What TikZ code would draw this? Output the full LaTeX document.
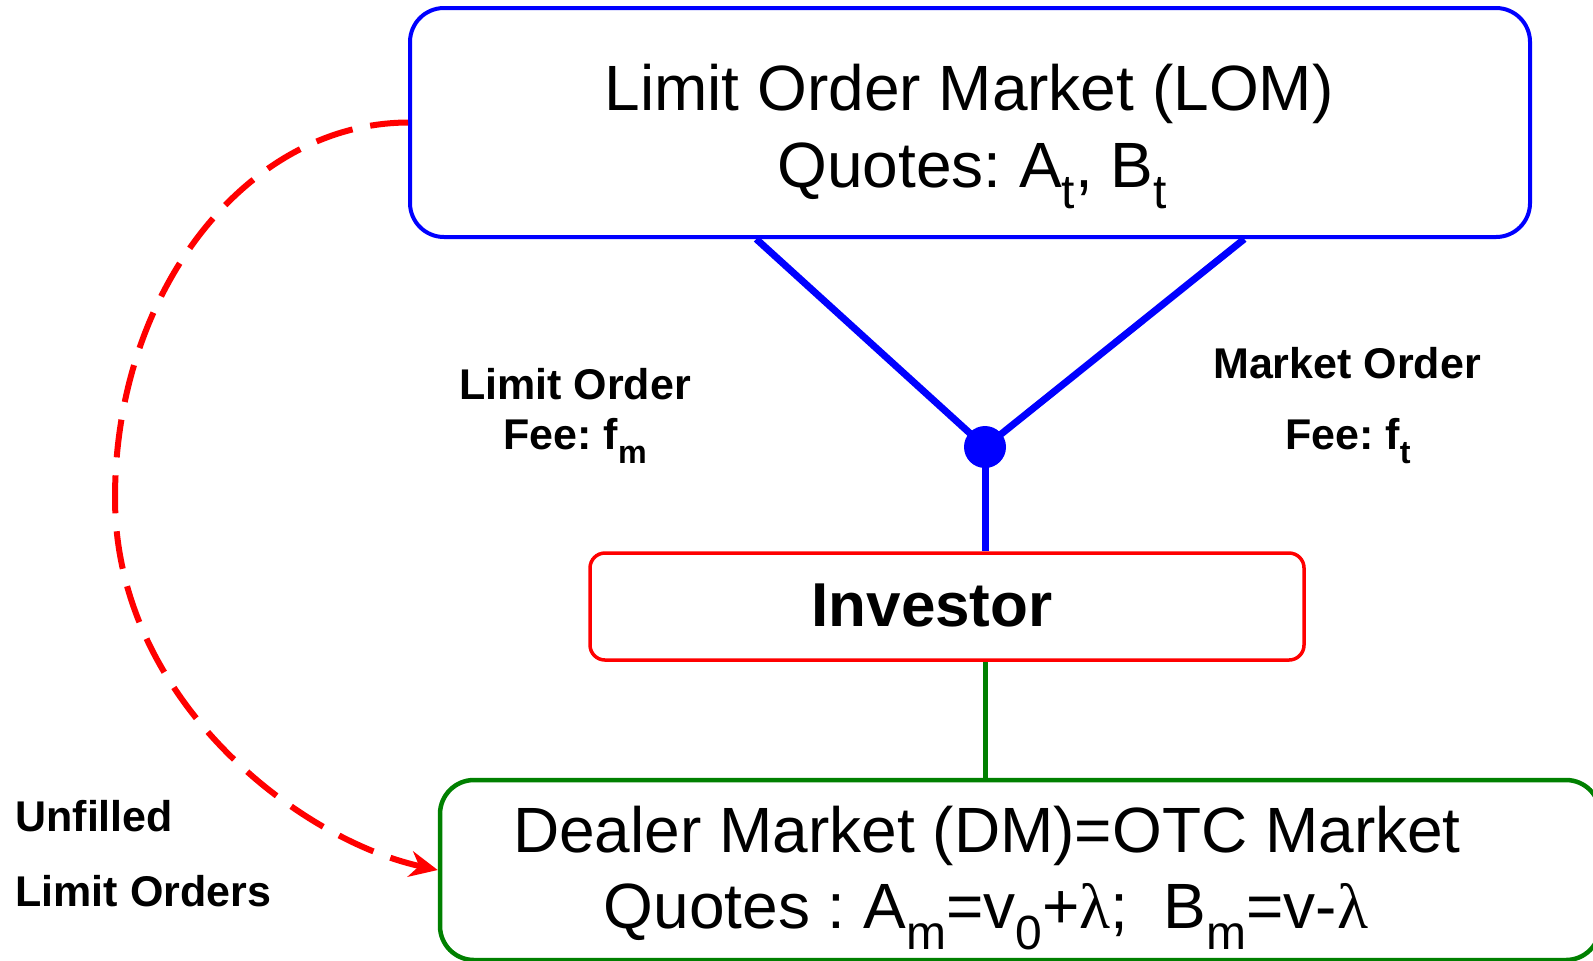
\documentclass[tikz,border=0pt]{standalone}
\usepackage{fontspec}
\setmainfont{Liberation Sans}
\newfontfamily\grk{Liberation Serif}
\usetikzlibrary{arrows.meta,calc}
\newcommand{\lsub}[1]{\raisebox{-0.33em}{\scalebox{0.75}{#1}}}
\definecolor{dkgreen}{RGB}{0,128,0}
\frenchspacing
\begin{document}
\begin{tikzpicture}[x=0.5pt,y=-0.5pt,
  big/.style={font=\fontsize{32pt}{39pt}\selectfont, inner sep=0pt, anchor=base},
  lbl/.style={font=\fontsize{21.5pt}{26pt}\selectfont\bfseries, inner sep=0pt, anchor=base},
  lbll/.style={lbl, anchor=base west},
  boxb/.style={draw=blue, line width=2pt, rounded corners=17pt, inner sep=0pt},
  boxr/.style={draw=red, line width=1.75pt, rounded corners=7.5pt, inner sep=0pt},
  boxg/.style={draw=dkgreen, line width=2.25pt, rounded corners=17pt, inner sep=0pt},
  leg/.style={draw=blue, line width=3.5pt},
  dline/.style={draw=red, line width=3pt, dash pattern=on 19pt off 9pt, -{Stealth[length=14pt,width=13pt]}}
]
\useasboundingbox (0,0) rectangle (1593,960);
\clip (0,0) rectangle (1593,960);
% boxes
\node[boxb, minimum width=560pt, minimum height=114.5pt] (lom) at (970,122.5) {};
\node[boxr, minimum width=357pt, minimum height=53.5pt] (inv) at (947,606.5) {};
\node[boxg, minimum width=580pt, minimum height=90pt] (dm) at (1020,870) {};
% texts
\node[big] (lom1) at (969,110) {Limit Order Market (LOM)};
\node[big] (lom2) at (972,187) {Quotes: A\lsub{t}, B\lsub{t}};
\node[inner sep=0pt, anchor=base, font=\fontsize{31pt}{36pt}\selectfont\bfseries] (invt) at (932,626) {Investor};
\node[big] (dm1) at (987,852) {Dealer Market (DM)=OTC Market};
\node[big] (dm2) at (986,928) {Quotes : A\lsub{m}={v}\lsub{0}+{\grk λ};~~B\lsub{m}=v-{\grk λ}};
\node[lbl] (lo1) at (575,399) {Limit Order};
\node[lbl] (lo2) at (575,449) {Fee: f\lsub{m}};
\node[lbl] (mo1) at (1347,378) {Market Order};
\node[lbl] (mo2) at (1348,449) {Fee: f\lsub{t}};
\node[lbll] (uf1) at (15,831) {Unfilled};
\node[lbll] (uf2) at (15,906) {Limit Orders};
% dot and connectors
\node[circle, fill=blue, minimum size=21pt, inner sep=0pt] (dot) at (985,447) {};
\draw[leg] ($(lom.south west)!0.3098!(lom.south east)$) -- (dot.center);
\draw[leg] ($(lom.south west)!0.744!(lom.south east)$) -- (dot.center);
\draw[leg] (dot.center) -- (dot |- inv.north);
\draw[draw=dkgreen, line width=2.5pt] (dot |- inv.south) -- (dot |- dm.north);
\draw[dline] (lom.west) .. controls (247,123) and (115,291) .. (115,498)
  .. controls (115,700) and (300,840) .. (dm.west);
\end{tikzpicture}
\end{document}
